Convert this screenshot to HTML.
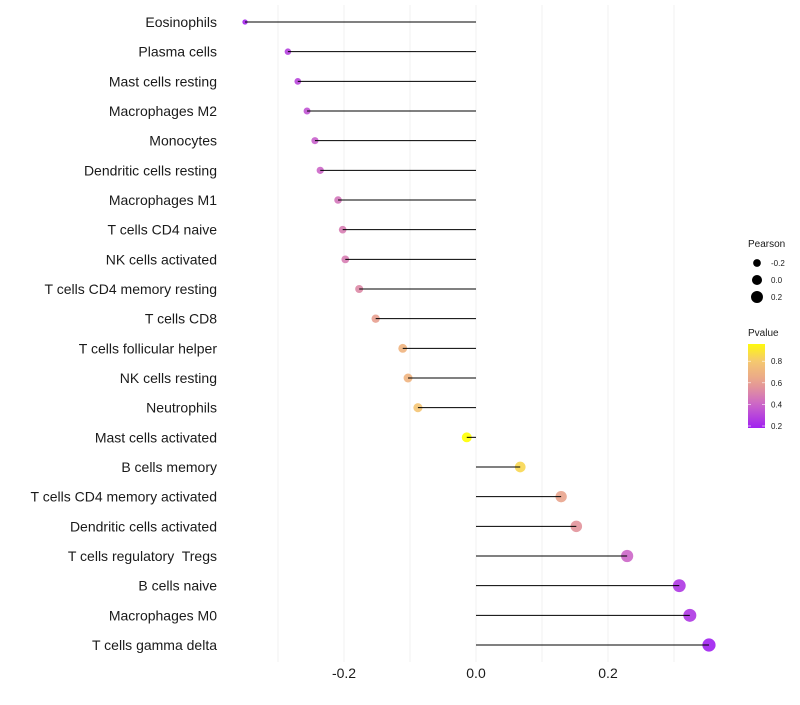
<!DOCTYPE html>
<html><head><meta charset="utf-8"><style>
body{margin:0;background:#fff;}
svg{font-family:"Liberation Sans",sans-serif;}
text{white-space:pre;}
</style></head><body>
<svg id="c" width="800" height="700"></svg>
<script>
const cells=["Eosinophils","Plasma cells","Mast cells resting","Macrophages M2","Monocytes","Dendritic cells resting","Macrophages M1","T cells CD4 naive","NK cells activated","T cells CD4 memory resting","T cells CD8","T cells follicular helper","NK cells resting","Neutrophils","Mast cells activated","B cells memory","T cells CD4 memory activated","Dendritic cells activated","T cells regulatory  Tregs","B cells naive","Macrophages M0","T cells gamma delta"];
const pearson=[-0.35,-0.285,-0.27,-0.256,-0.244,-0.236,-0.209,-0.202,-0.198,-0.177,-0.152,-0.111,-0.103,-0.088,-0.014,0.067,0.129,0.152,0.229,0.308,0.324,0.353];
const pvalue=[0.2,0.28,0.3,0.34,0.38,0.4,0.45,0.48,0.48,0.52,0.6,0.7,0.7,0.78,0.98,0.85,0.62,0.56,0.4,0.25,0.25,0.18];
const xTicks=[-0.2,0.0,0.2];
const legendSizes=[-0.2,0.0,0.2];
const legendP=[0.2,0.4,0.6,0.8];

const NS="http://www.w3.org/2000/svg";
const svg=document.getElementById('c');
const X=v=>476+v*660;
const Y=i=>22+i*(623/21);
const R=v=>Math.sqrt(Math.max(2.5,25.3+52*v));
const stops=[[0.18,[160,32,240]],[0.4,[204,102,200]],[0.6,[232,160,144]],[0.8,[245,200,112]],[0.98,[255,255,0]]];
function col(p){p=Math.max(0.18,Math.min(0.98,p));for(let k=0;k<stops.length-1;k++){const a=stops[k],b=stops[k+1];if(p<=b[0]){const t=(p-a[0])/(b[0]-a[0]);return 'rgb('+a[1].map((c,j)=>Math.round(c+(b[1][j]-c)*t)).join(',')+')';}}return 'rgb(255,255,0)';}
function mk(tag,attrs,parent){const e=document.createElementNS(NS,tag);for(const k in attrs)e.setAttribute(k,attrs[k]);(parent||svg).appendChild(e);return e;}
for(let g=-0.3;g<=0.31;g+=0.1){
 const l=mk('line',{x1:X(g),x2:X(g),y1:5,y2:662,stroke:'#f0f0f0','stroke-width':1});
 
 
}
cells.forEach((c,i)=>{
 const t=mk('text',{x:217,y:Y(i)+5,'text-anchor':'end','font-size':14,fill:'#1a1a1a'});
 t.textContent=c;
 
 
 const ci=mk('circle',{cx:X(pearson[i]),cy:Y(i),r:R(pearson[i]),fill:col(pvalue[i]),'fill-opacity':0.9});
 
 
 const l=mk('line',{x1:X(0),x2:X(pearson[i]),y1:Y(i),y2:Y(i),stroke:'#000','stroke-width':1});
 
 
});
xTicks.forEach(v=>{
 const t=mk('text',{x:X(v),y:678,'text-anchor':'middle','font-size':14,fill:'#1a1a1a'});
 t.textContent=v.toFixed(1);
 
 
});
const lt=mk('text',{x:748,y:247,'font-size':10,fill:'#1a1a1a'});lt.textContent='Pearson';


legendSizes.forEach((v,k)=>{
 const cy=263+k*17;
 const c=mk('circle',{cx:757,cy:cy,r:R(v),fill:'#000'});
 
 
 const t=mk('text',{x:771,y:cy+3,'font-size':8,fill:'#1a1a1a'});t.textContent=v.toFixed(1);
 
 
});
const pt=mk('text',{x:748,y:336,'font-size':10,fill:'#1a1a1a'});pt.textContent='Pvalue';


const PY=p=>426-(p-0.2)*108;
const defs=mk('defs',{});
const lg=mk('linearGradient',{id:'pg',x1:0,y1:1,x2:0,y2:0},defs);
for(let s=0;s<=10;s++){const p=0.18+s*0.078;mk('stop',{offset:s/10,'stop-color':col(p)},lg);}
const bar=mk('rect',{x:748,y:344,width:17,height:84,fill:'url(#pg)'});


legendP.forEach(p=>{
 mk('line',{x1:748,x2:751,y1:PY(p),y2:PY(p),stroke:'#fff','stroke-width':0.6});
 mk('line',{x1:762,x2:765,y1:PY(p),y2:PY(p),stroke:'#fff','stroke-width':0.6});
 const t=mk('text',{x:771,y:PY(p)+3,'font-size':8,fill:'#1a1a1a'});t.textContent=p.toFixed(1);
 
 
});
</script>
</body></html>
